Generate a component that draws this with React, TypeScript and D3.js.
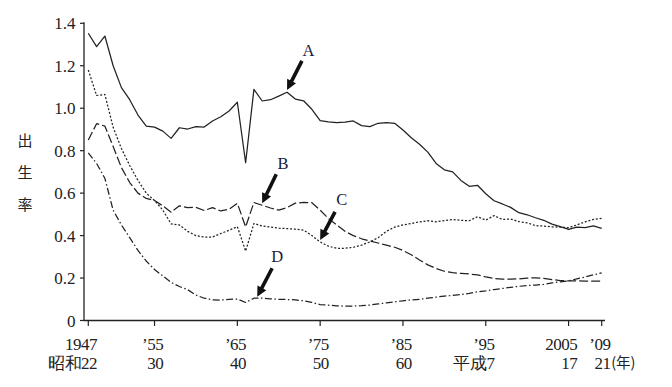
import React from "react";
import * as d3 from "d3";

const years: number[] = d3.range(1947, 2010);

const seriesA: number[] = [
  1.353, 1.29, 1.34, 1.2, 1.097, 1.04, 0.968, 0.916, 0.911, 0.892,
  0.858, 0.908, 0.902, 0.913, 0.911, 0.94, 0.96, 0.987, 1.028, 0.743,
  1.089, 1.034, 1.04, 1.057, 1.075, 1.043, 1.035, 0.995, 0.941, 0.936,
  0.932, 0.935, 0.94, 0.918, 0.913, 0.929, 0.932, 0.929, 0.897, 0.861,
  0.83, 0.793, 0.74, 0.71, 0.7, 0.66, 0.632, 0.637, 0.597, 0.564,
  0.549, 0.533, 0.508, 0.498, 0.484, 0.472, 0.454, 0.442, 0.429, 0.44,
  0.437, 0.446, 0.434,
];

const seriesB: number[] = [
  0.85, 0.927, 0.916, 0.82, 0.72, 0.65, 0.6, 0.575, 0.565, 0.54,
  0.51, 0.54, 0.532, 0.533, 0.518, 0.532, 0.516, 0.524, 0.552, 0.441,
  0.556, 0.543, 0.53, 0.52, 0.532, 0.553, 0.556, 0.555, 0.52, 0.48,
  0.45, 0.42, 0.4, 0.385, 0.375, 0.365, 0.355, 0.345, 0.33, 0.31,
  0.285, 0.262, 0.245, 0.232, 0.225, 0.222, 0.219, 0.215, 0.205, 0.198,
  0.195, 0.195, 0.196, 0.2, 0.201, 0.198, 0.193, 0.188, 0.187, 0.187,
  0.186, 0.186, 0.186,
];

const seriesC: number[] = [
  1.18, 1.06, 1.065, 0.91, 0.81, 0.73, 0.66, 0.6, 0.565, 0.52,
  0.455, 0.45, 0.42, 0.4, 0.393, 0.393, 0.41, 0.425, 0.442, 0.327,
  0.457, 0.445, 0.44, 0.435, 0.433, 0.43, 0.426, 0.4, 0.37, 0.35,
  0.34, 0.34, 0.345, 0.355, 0.37, 0.39, 0.42, 0.44, 0.45, 0.457,
  0.465, 0.47, 0.465, 0.47, 0.476, 0.472, 0.47, 0.489, 0.473, 0.494,
  0.476, 0.478, 0.466, 0.46, 0.447, 0.445, 0.441, 0.44, 0.437, 0.45,
  0.465, 0.476, 0.481,
];

const seriesD: number[] = [
  0.79, 0.74, 0.67, 0.52, 0.45, 0.39, 0.33, 0.28, 0.24, 0.21,
  0.18, 0.16, 0.145, 0.12, 0.105, 0.097, 0.096, 0.1, 0.101, 0.085,
  0.105, 0.105, 0.102, 0.1, 0.099, 0.097, 0.093, 0.085, 0.075, 0.072,
  0.069, 0.068, 0.068, 0.07, 0.073, 0.078, 0.083, 0.088, 0.093, 0.097,
  0.1, 0.105, 0.11, 0.115, 0.118, 0.122, 0.128, 0.135, 0.14, 0.146,
  0.151, 0.156, 0.161, 0.165, 0.167, 0.17, 0.177, 0.182, 0.187, 0.196,
  0.205, 0.215, 0.224,
];

const yTicks: number[] = [0, 0.2, 0.4, 0.6, 0.8, 1.0, 1.2, 1.4];
const yTickLabels: string[] = ["0", "0.2", "0.4", "0.6", "0.8", "1.0", "1.2", "1.4"];

const xTicks: number[] = [1947, 1955, 1965, 1975, 1985, 1995, 2005, 2009];
const xLabels1: string[] = ["1947", "\u201955", "\u201965", "\u201975", "\u201985", "\u201995", "2005", "\u201909"];
const xLabels2: string[] = ["昭和22", "30", "40", "50", "60", "平成7", "17", "21"];

const yTitle: string[] = ["出", "生", "率"];

// annotation arrows: label, label position, tail, tip (year, value)
const arrowNames: string[] = ["A", "B", "C", "D"];
const arrowLabelPos: [number, number][] = [
  [1973.6, 1.247],
  [1970.5, 0.716],
  [1977.6, 0.543],
  [1969.8, 0.277],
];
const arrowTail: [number, number][] = [
  [1972.8, 1.223],
  [1969.7, 0.689],
  [1976.8, 0.512],
  [1969.2, 0.246],
];
const arrowTip: [number, number][] = [
  [1971.0, 1.086],
  [1968.0, 0.552],
  [1975.0, 0.379],
  [1967.4, 0.112],
];

const W = 672;
const H = 387;
const X0 = 88.3;
const X1 = 601.7;
const Y0 = 320.5;
const Y1 = 23.3;
const INK = "#222";
const FONT = "'Liberation Serif', 'DejaVu Serif', serif";
const CJK = "'Noto Sans CJK JP', 'Noto Sans CJK SC', sans-serif";

function arrowPath(tail: [number, number], tip: [number, number]): string {
  const dx = tip[0] - tail[0];
  const dy = tip[1] - tail[1];
  const len = Math.sqrt(dx * dx + dy * dy);
  const ux = dx / len;
  const uy = dy / len;
  const px = -uy;
  const py = ux;
  const headLen = 10;
  const headW = 5;
  const shaftW = 1.8;
  const bx = tip[0] - ux * headLen;
  const by = tip[1] - uy * headLen;
  const p = d3.path();
  p.moveTo(tail[0] + px * shaftW, tail[1] + py * shaftW);
  p.lineTo(bx + px * shaftW, by + py * shaftW);
  p.lineTo(bx + px * headW, by + py * headW);
  p.lineTo(tip[0], tip[1]);
  p.lineTo(bx - px * headW, by - py * headW);
  p.lineTo(bx - px * shaftW, by - py * shaftW);
  p.lineTo(tail[0] - px * shaftW, tail[1] - py * shaftW);
  p.closePath();
  return p.toString();
}

export default function App() {
  const x = d3.scaleLinear().domain([1947, 2009]).range([X0, X1]);
  const y = d3.scaleLinear().domain([0, 1.4]).range([Y0, Y1]);

  const line = d3
    .line<number>()
    .x((_, i) => x(years[i]))
    .y((v) => y(v));

  const series = [
    { values: seriesA, dash: "none" },
    { values: seriesB, dash: "9,3" },
    { values: seriesC, dash: "2,1.8" },
    { values: seriesD, dash: "7,2.5,1.5,2.5" },
  ];

  return (
    <svg
      width={W}
      height={H}
      style={{ position: "absolute", left: 0, top: 0, background: "#fff" }}
    >
      <rect x={0} y={0} width={W} height={H} fill="#fff" />
      {/* axes */}
      <line x1={84} x2={84} y1={Y1 - 1} y2={Y0} stroke={INK} strokeWidth={1.3} />
      <line x1={84} x2={605} y1={Y0} y2={Y0} stroke={INK} strokeWidth={1.3} />
      {yTicks.map((t, i) => (
        <g key={"yt" + i}>
          <line x1={80} x2={84} y1={y(t)} y2={y(t)} stroke={INK} strokeWidth={1.2} />
          <text
            x={75.5}
            y={y(t) + 6}
            textAnchor="end"
            fontFamily={FONT}
            fontSize={17}
            fill={INK}
          >
            {yTickLabels[i]}
          </text>
        </g>
      ))}
      {xTicks.map((t, i) => (
        <g key={"xt" + i}>
          <line x1={x(t)} x2={x(t)} y1={Y0} y2={Y0 + 5.5} stroke={INK} strokeWidth={1.2} />
          <text
            x={x(t) + 8.7}
            y={349.5}
            textAnchor="end"
            fontFamily={FONT}
            fontSize={17}
            letterSpacing={-0.5}
            fill={INK}
          >
            {xLabels1[i]}
          </text>
          <text
            x={x(t) + 8.7}
            y={368.5}
            textAnchor="end"
            fontFamily={FONT}
            fontSize={17}
            letterSpacing={-0.5}
            fill={INK}
          >
            {xLabels2[i]}
          </text>
        </g>
      ))}
      <text
        x={x(2009) + 9.5}
        y={367.5}
        textAnchor="start"
        fontFamily={CJK}
        fontSize={14.5}
        fill={INK}
      >
        (年)
      </text>
      {/* y title */}
      {yTitle.map((c, i) => (
        <text
          key={"ytl" + i}
          x={25}
          y={146 + i * 32}
          textAnchor="middle"
          fontFamily={CJK}
          fontSize={15}
          fill={INK}
        >
          {c}
        </text>
      ))}
      {/* series */}
      {series.map((s, i) => (
        <path
          key={"s" + i}
          d={line(s.values) || ""}
          fill="none"
          stroke={INK}
          strokeWidth={1.25}
          strokeDasharray={s.dash}
          strokeLinejoin="round"
        />
      ))}
      {/* annotations */}
      {arrowNames.map((n, i) => {
        const tail: [number, number] = [x(arrowTail[i][0]), y(arrowTail[i][1])];
        const tip: [number, number] = [x(arrowTip[i][0]), y(arrowTip[i][1])];
        return (
          <g key={"ar" + i}>
            <path d={arrowPath(tail, tip)} fill="#111" />
            <text
              x={x(arrowLabelPos[i][0])}
              y={y(arrowLabelPos[i][1])}
              textAnchor="middle"
              fontFamily={FONT}
              fontSize={16.5}
              fill="#1a1a3a"
            >
              {n}
            </text>
          </g>
        );
      })}
    </svg>
  );
}
